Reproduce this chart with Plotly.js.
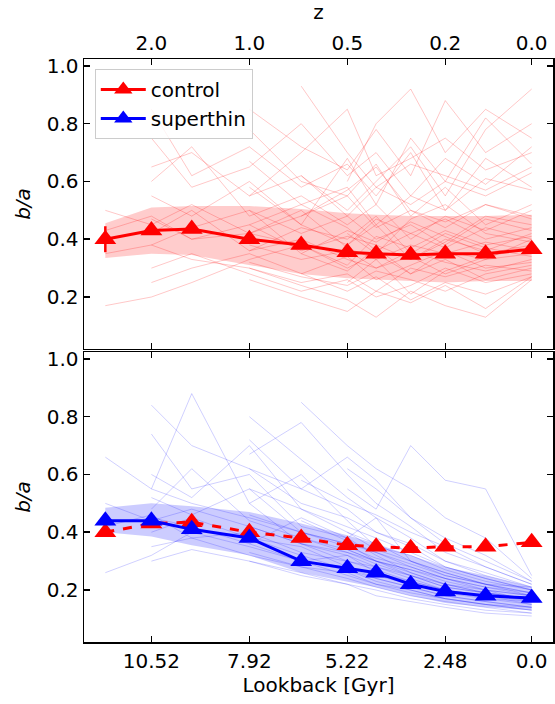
<!DOCTYPE html>
<html>
<head>
<meta charset="utf-8">
<script src="https://cdn.plot.ly/plotly-3.0.1.min.js"></script>
<style>html,body{margin:0;padding:0;background:#fff;}#chart{width:555px;height:704px;}</style>
</head>
<body>
<div id="chart"></div>
<script>
// Snapshot positions of the medians
const snapshots = [25, 33, 40, 50, 59, 67, 72, 78, 84, 91, 99];
// Tick positions / labels
const tickSnaps = [33, 50, 67, 84, 99];
const lookbackLabels = ["10.52", "7.92", "5.22", "2.48", "0.0"];
const zLabels = ["2.0", "1.0", "0.5", "0.2", "0.0"];
const yTickVals = [0.2, 0.4, 0.6, 0.8, 1.0];
const yTickText = ["0.2", "0.4", "0.6", "0.8", "1.0"];

// Control median and spread
const controlMedian = [0.40, 0.43, 0.435, 0.40, 0.38, 0.355, 0.35, 0.345, 0.35, 0.35, 0.365];
const controlErr = [0.045, 0, 0, 0, 0, 0, 0, 0, 0, 0, 0];
const controlLow = [0.335, 0.35, 0.345, 0.31, 0.28, 0.265, 0.26, 0.255, 0.25, 0.255, 0.255];
const controlHigh = [0.455, 0.51, 0.515, 0.515, 0.505, 0.49, 0.485, 0.48, 0.48, 0.48, 0.485];

// Superthin median and spread
const superMedian = [0.44, 0.44, 0.41, 0.38, 0.30, 0.275, 0.26, 0.22, 0.195, 0.18, 0.172];
const superLow = [0.40, 0.385, 0.355, 0.32, 0.26, 0.23, 0.21, 0.18, 0.155, 0.14, 0.13];
const superHigh = [0.485, 0.50, 0.49, 0.47, 0.43, 0.39, 0.36, 0.32, 0.28, 0.25, 0.21];

// Individual galaxy tracks (estimated)
const controlTracks = [
 [0.17,0.20,0.25,0.33,0.38,0.30,0.35,0.28,0.36,0.33,0.40],
 [0.50,0.45,0.52,0.42,0.48,0.55,0.44,0.50,0.46,0.52,0.48],
 [0.35,0.38,0.33,0.30,0.25,0.28,0.22,0.30,0.27,0.31,0.29],
 [0.43,0.48,0.40,0.45,0.36,0.41,0.38,0.33,0.40,0.36,0.42],
 [null,0.65,0.70,0.55,0.62,0.48,0.58,0.52,0.60,0.55,0.63],
 [null,0.85,0.62,0.72,0.58,0.66,0.55,0.70,0.50,0.61,0.57],
 [null,0.30,0.35,0.28,0.22,0.26,0.20,0.24,0.30,0.25,0.28],
 [null,0.55,0.48,0.60,0.45,0.38,0.47,0.42,0.37,0.44,0.40],
 [null,0.42,0.50,0.36,0.40,0.33,0.30,0.36,0.32,0.29,0.33],
 [null,0.75,0.58,0.65,0.80,0.62,0.70,0.55,0.68,0.59,0.72],
 [null,0.38,0.44,0.50,0.35,0.43,0.39,0.46,0.41,0.35,0.38],
 [null,0.60,0.72,0.48,0.55,0.45,0.52,0.40,0.48,0.43,0.50],
 [null,0.25,0.30,0.35,0.28,0.22,0.27,0.19,0.25,0.21,0.27],
 [null,0.47,0.40,0.42,0.50,0.37,0.33,0.38,0.35,0.39,0.36],
 [null,null,null,0.58,0.45,0.68,0.52,0.75,0.60,0.82,0.66],
 [null,null,null,0.32,0.27,0.24,0.29,0.26,0.22,0.28,0.31],
 [null,null,null,0.78,0.60,0.55,0.66,0.48,0.58,0.45,0.52],
 [null,null,null,0.45,0.52,0.44,0.36,0.42,0.47,0.40,0.44],
 [null,null,null,0.26,0.20,0.15,0.22,0.18,0.24,0.16,0.27],
 [null,null,null,0.55,0.70,0.85,0.62,0.68,0.75,0.64,0.70],
 [null,null,null,0.38,0.33,0.36,0.30,0.34,0.28,0.33,0.35],
 [null,null,null,0.67,0.52,0.58,0.45,0.55,0.50,0.68,0.58],
 [null,null,null,0.42,0.38,0.31,0.41,0.37,0.43,0.38,0.41],
 [null,null,null,0.30,0.24,0.19,0.13,0.22,0.17,0.13,0.26],
 [null,null,null,0.85,0.72,0.64,0.78,0.62,0.88,0.70,0.80],
 [null,null,null,0.50,0.42,0.48,0.40,0.45,0.38,0.47,0.43],
 [null,null,null,0.36,0.44,0.40,0.48,0.35,0.42,0.37,0.34],
 [null,null,null,null,0.62,0.50,0.60,0.72,0.55,0.78,0.92],
 [null,null,null,null,0.28,0.34,0.26,0.31,0.36,0.30,0.32],
 [null,null,null,null,0.48,0.57,0.65,0.50,0.44,0.52,0.47],
 [null,null,null,null,0.93,0.70,0.58,0.66,0.62,0.57,0.65],
 [null,null,null,null,0.35,0.29,0.37,0.28,0.33,0.26,0.30],
 [null,null,null,null,null,0.42,0.35,0.47,0.52,0.42,0.39],
 [null,null,null,null,null,0.25,0.33,0.21,0.29,0.34,0.37],
 [null,null,null,null,null,0.60,0.80,0.92,0.70,0.85,0.75],
 [null,null,null,null,null,0.38,0.45,0.33,0.39,0.48,0.45]
];
const superTracks = [
 [0.26,0.32,0.40,0.35,0.30,0.25,0.22,0.20,0.17,0.15,0.14],
 [0.50,0.44,0.48,0.42,0.36,0.33,0.30,0.26,0.22,0.20,0.18],
 [0.42,0.46,0.38,0.40,0.33,0.30,0.28,0.24,0.20,0.18,0.16],
 [0.66,0.55,0.50,0.45,0.40,0.36,0.30,0.25,0.21,0.19,0.17],
 [null,0.84,0.70,0.62,0.55,0.48,0.40,0.35,0.28,0.24,0.20],
 [null,0.74,0.55,0.60,0.42,0.38,0.45,0.30,0.26,0.22,0.19],
 [null,0.40,0.45,0.38,0.35,0.28,0.25,0.22,0.19,0.17,0.15],
 [null,0.55,0.88,0.50,0.60,0.44,0.35,0.32,0.27,0.23,0.20],
 [null,0.35,0.38,0.32,0.28,0.26,0.22,0.19,0.17,0.15,0.13],
 [null,0.60,0.52,0.70,0.48,0.40,0.36,0.30,0.25,0.22,0.21],
 [null,0.45,0.42,0.36,0.30,0.32,0.26,0.23,0.20,0.17,0.16],
 [null,0.48,0.62,0.44,0.38,0.34,0.30,0.27,0.23,0.20,0.18],
 [null,0.30,0.34,0.30,0.25,0.22,0.20,0.17,0.15,0.13,0.12],
 [null,0.52,0.46,0.55,0.40,0.36,0.33,0.28,0.24,0.21,0.19],
 [null,null,null,0.80,0.65,0.52,0.45,0.38,0.30,0.25,0.21],
 [null,null,null,0.42,0.36,0.30,0.27,0.23,0.20,0.18,0.15],
 [null,null,null,0.67,0.78,0.60,0.50,0.42,0.33,0.28,0.22],
 [null,null,null,0.38,0.32,0.27,0.24,0.21,0.18,0.16,0.14],
 [null,null,null,0.55,0.48,0.42,0.38,0.33,0.28,0.24,0.20],
 [null,null,null,0.33,0.28,0.24,0.21,0.18,0.16,0.14,0.12],
 [null,null,null,0.72,0.55,0.66,0.58,0.45,0.36,0.30,0.23],
 [null,null,null,0.46,0.40,0.35,0.31,0.28,0.24,0.21,0.18],
 [null,null,null,0.36,0.45,0.38,0.32,0.26,0.22,0.19,0.16],
 [null,null,null,0.50,0.36,0.32,0.28,0.25,0.21,0.19,0.17],
 [null,null,null,0.30,0.26,0.22,0.18,0.16,0.14,0.12,0.11],
 [null,null,null,0.62,0.50,0.45,0.40,0.36,0.30,0.26,0.21],
 [null,null,null,null,0.85,0.70,0.62,0.55,0.45,0.38,0.24],
 [null,null,null,null,0.44,0.37,0.33,0.29,0.25,0.22,0.19],
 [null,null,null,null,0.30,0.27,0.23,0.20,0.17,0.15,0.13],
 [null,null,null,null,0.58,0.50,0.46,0.40,0.35,0.28,0.22],
 [null,null,null,null,0.38,0.33,0.29,0.25,0.22,0.19,0.17],
 [null,null,null,null,null,0.55,0.48,0.70,0.58,0.55,0.25],
 [null,null,null,null,null,0.40,0.34,0.30,0.26,0.22,0.18],
 [null,null,null,null,null,0.28,0.24,0.21,0.18,0.16,0.14],
 [null,null,null,null,null,0.62,0.55,0.45,0.38,0.32,0.23],
 [null,null,null,null,null,0.34,0.30,0.27,0.24,0.20,0.16]
];

const traces = [];
// medians first so the legend lists control before superthin
const controlTop = {x: snapshots, y: controlMedian, xaxis: 'x', yaxis: 'y', mode: 'lines+markers', name: 'control',
  legendrank: 1,
  line: {color: 'red', width: 3}, marker: {symbol: 'triangle-up', size: 19, color: 'red'},
  error_y: {type: 'data', array: controlErr, visible: true, color: 'red', thickness: 2.5, width: 0}};
const controlBottom = {x: snapshots, y: controlMedian, xaxis: 'x2', yaxis: 'y2', mode: 'lines+markers', name: 'control',
  showlegend: false, line: {color: 'red', width: 3, dash: 'dash'}, marker: {symbol: 'triangle-up', size: 19, color: 'red'}};
const superBottom = {x: snapshots, y: superMedian, xaxis: 'x2', yaxis: 'y2', mode: 'lines+markers', name: 'superthin',
  legendrank: 2,
  line: {color: 'blue', width: 3}, marker: {symbol: 'triangle-up', size: 19, color: 'blue'}};

controlTracks.forEach(t => traces.push({
  x: snapshots, y: t, xaxis: 'x', yaxis: 'y', type: 'scatter', mode: 'lines',
  line: {color: 'rgba(255,0,0,0.28)', width: 0.8}, showlegend: false, hoverinfo: 'skip'
}));
superTracks.forEach(t => traces.push({
  x: snapshots, y: t, xaxis: 'x2', yaxis: 'y2', type: 'scatter', mode: 'lines',
  line: {color: 'rgba(0,0,255,0.24)', width: 0.8}, showlegend: false, hoverinfo: 'skip'
}));
// bands
traces.push({x: snapshots, y: controlLow, xaxis: 'x', yaxis: 'y', mode: 'lines',
  line: {width: 0, color: 'rgba(0,0,0,0)'}, showlegend: false, hoverinfo: 'skip'});
traces.push({x: snapshots, y: controlHigh, xaxis: 'x', yaxis: 'y', mode: 'lines', fill: 'tonexty',
  fillcolor: 'rgba(255,0,0,0.2)', line: {width: 0, color: 'rgba(0,0,0,0)'}, showlegend: false, hoverinfo: 'skip'});
traces.push({x: snapshots, y: superLow, xaxis: 'x2', yaxis: 'y2', mode: 'lines',
  line: {width: 0, color: 'rgba(0,0,0,0)'}, showlegend: false, hoverinfo: 'skip'});
traces.push({x: snapshots, y: superHigh, xaxis: 'x2', yaxis: 'y2', mode: 'lines', fill: 'tonexty',
  fillcolor: 'rgba(0,0,255,0.2)', line: {width: 0, color: 'rgba(0,0,0,0)'}, showlegend: false, hoverinfo: 'skip'});
traces.push(controlTop, controlBottom, superBottom);

const xr = [21.3, 102.7];
const yr = [0.02, 1.024];
const base = {showline: true, linecolor: 'black', linewidth: 1.5, ticks: 'inside', ticklen: 6,
  tickwidth: 1.5, tickcolor: 'black', showgrid: false, zeroline: false,
  tickfont: {size: 20, color: 'black', family: 'DejaVu Sans'}};

const layout = {
  width: 555, height: 704,
  margin: {l: 84, r: 2, t: 59, b: 62},
  paper_bgcolor: 'white', plot_bgcolor: 'white',
  font: {family: 'DejaVu Sans', color: 'black', size: 20},
  showlegend: true,
  legend: {x: 0.023, y: 0.983, xanchor: 'left', yanchor: 'top', bgcolor: 'rgba(255,255,255,0.8)',
    bordercolor: '#cccccc', borderwidth: 1, font: {size: 20}, itemwidth: 45, tracegroupgap: 0,
    traceorder: 'normal'},
  xaxis: Object.assign({}, base, {anchor: 'y', range: xr, tickvals: tickSnaps, showticklabels: false, mirror: false}),
  xaxis3: Object.assign({}, base, {overlaying: 'x', side: 'top', anchor: 'y', range: xr, tickvals: tickSnaps,
    ticktext: zLabels, title: {text: 'z', font: {size: 20}, standoff: 8}}),
  xaxis2: Object.assign({}, base, {anchor: 'y2', range: xr, tickvals: tickSnaps, ticktext: lookbackLabels,
    mirror: 'ticks', title: {text: 'Lookback [Gyr]', font: {size: 20}, standoff: 6}}),
  yaxis: Object.assign({}, base, {anchor: 'x', domain: [0.5026, 1], range: yr, tickvals: yTickVals,
    ticktext: yTickText, mirror: 'ticks', title: {text: '<i>b/a</i>', font: {size: 20}, standoff: 10}}),
  yaxis2: Object.assign({}, base, {anchor: 'x2', domain: [0, 0.4974], range: yr, tickvals: yTickVals,
    ticktext: yTickText, mirror: 'ticks', title: {text: '<i>b/a</i>', font: {size: 20}, standoff: 10}})
};
// dummy trace for top axis so it is drawn
traces.push({x: [null], y: [null], xaxis: 'x3', yaxis: 'y', mode: 'lines', showlegend: false, hoverinfo: 'skip'});

Plotly.newPlot('chart', traces, layout, {displayModeBar: false, staticPlot: true});
</script>
</body>
</html>
